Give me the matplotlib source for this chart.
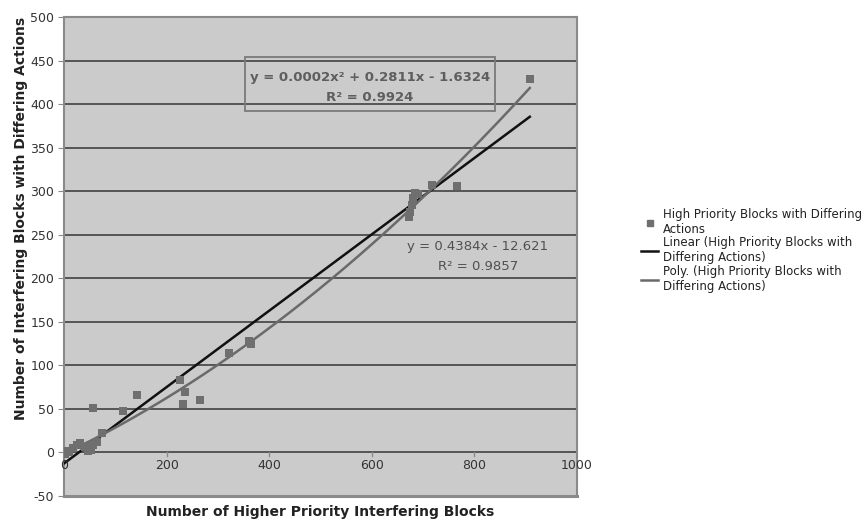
import numpy as np
import matplotlib
matplotlib.use("Agg")
import matplotlib.pyplot as plt
from matplotlib.lines import Line2D
from matplotlib.patches import Rectangle

# ---- data ----
x_blocks = [0, 2, 5, 9, 18, 25, 31, 40, 47, 52, 57, 64, 74, 57, 115, 142,
            226, 236, 232, 265, 322, 361, 365, 672, 675, 678, 680, 684, 690,
            717, 766, 908]
y_blocks = [0, -2, 2, 0, 5, 8, 11, 6, 2, 3, 9, 12, 22, 51, 48, 66,
            83, 69, 56, 60, 114, 128, 124, 270, 276, 284, 292, 298, 297,
            307, 306, 429]

lin_coef = [0.4384, -12.621]
poly_coef = [0.0002, 0.2811, -1.6324]
lin_r2 = 0.9857
poly_r2 = 0.9924

x_ticks = [0, 200, 400, 600, 800, 1000]
y_ticks = list(range(-50, 501, 50))

series_label = "High Priority Blocks with Differing\nActions"
lin_label = "Linear (High Priority Blocks with\nDiffering Actions)"
poly_label = "Poly. (High Priority Blocks with\nDiffering Actions)"

plt.rcParams['font.family'] = ['DejaVu Sans']
plt.rcParams['axes.unicode_minus'] = False

fig = plt.figure(figsize=(8.65, 5.25), dpi=100)
ax = fig.add_axes([64/865, 1-496/525, (577-64)/865, (496-17)/525])
ax.set_facecolor('#cbcbcb')
ax.set_xlim(0, 1000)
ax.set_ylim(-50, 500)

# gridlines
for yv in y_ticks:
    if -50 < yv < 500:
        ax.axhline(yv, color='#353535', lw=1.1, zorder=1)

# trend lines
xs = np.linspace(0, max(x_blocks), 200)
ax.plot(xs, np.polyval(lin_coef, xs), color='#111111', lw=1.8, zorder=3)
ax.plot(xs, np.polyval(poly_coef, xs), color='#6a6a6a', lw=1.8, zorder=3)

# points
ax.scatter(x_blocks, y_blocks, marker='s', s=36, color='#6f6f6f', zorder=4,
           linewidths=0)

# spines / frame
for s in ['top', 'right', 'left']:
    ax.spines[s].set_color('#8a8a8a')
    ax.spines[s].set_linewidth(1.5)
ax.spines['bottom'].set_visible(False)
ax.plot([0, 1000], [-50, -50], color='#8a8a8a', lw=2.2, clip_on=False, zorder=5)

ax.set_yticks(y_ticks)
ax.set_xticks(x_ticks)
ax.tick_params(axis='y', direction='out', length=4, color='#8a8a8a',
               labelsize=9, labelcolor='#333333', pad=3)
ax.tick_params(axis='x', length=0, labelbottom=False)
for xv in x_ticks:
    ax.plot([xv, xv], [0, -4], color='#8a8a8a', lw=1, zorder=2)
    ax.text(xv, -7, str(xv), ha='center', va='top', fontsize=9, color='#333333')

fig.text(21/865, 1-218/525, "Number of Interfering Blocks with Differing Actions",
         rotation=90, ha='center', va='center', fontsize=10, fontweight='bold',
         color='#222222')
fig.text(320/865, 1-512/525, "Number of Higher Priority Interfering Blocks",
         ha='center', va='center', fontsize=10, fontweight='bold', color='#222222')

# equations
poly_txt = ("y = %.4fx² + %.4fx - %.4f\nR² = %.4f"
            % (poly_coef[0], poly_coef[1], -poly_coef[2], poly_r2))
ax.add_patch(Rectangle((0.3528, 0.8038), 0.840 - 0.3528, 0.9165 - 0.8038,
                       transform=ax.transAxes, fc='none', ec='#7a7a7a', lw=1.3,
                       zorder=6))
ax.text(0.5965, 0.853, poly_txt, transform=ax.transAxes, ha='center', va='center',
        fontsize=9.5, fontweight='bold', color='#5e5e5e', linespacing=1.75,
        zorder=6)
lin_txt = "y = %.4fx - %.3f\nR² = %.4f" % (lin_coef[0], -lin_coef[1], lin_r2)
ax.text(0.807, 0.499, lin_txt, transform=ax.transAxes, ha='center', va='center',
        fontsize=9.5, color='#505050', linespacing=1.7, zorder=6,
        multialignment='center')

handles = [Line2D([], [], marker='s', ls='none', color='#6f6f6f', markersize=5),
           Line2D([], [], color='#111111', lw=1.8),
           Line2D([], [], color='#6a6a6a', lw=1.8)]
leg = fig.legend(handles, [series_label, lin_label, poly_label],
                 loc='upper left', bbox_to_anchor=(636/865, 1-203/525),
                 frameon=False, fontsize=8.5, handlelength=1.5, handletextpad=0.4,
                 labelspacing=0.05, borderaxespad=0)
for t in leg.get_texts():
    t.set_color('#222222')
    t.set_linespacing(1.2)

fig.savefig("out.png", dpi=100)
